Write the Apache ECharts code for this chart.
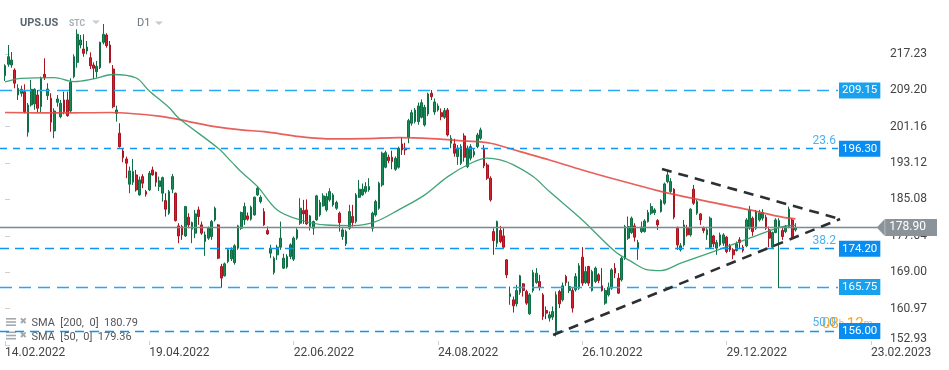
<!DOCTYPE html>
<html><head><meta charset="utf-8">
<script src="https://cdn.jsdelivr.net/npm/echarts@6/dist/echarts.min.js"></script>
<style>html,body{margin:0;padding:0;background:#fff}#c{width:949px;height:370px}</style>
</head><body><div id="c"></div>
<script>
// ---- tick labels ----
const xTickIdx = [0, 44, 88, 132, 176, 220, 264];
const xTickLabels = ['14.02.2022','19.04.2022','22.06.2022','24.08.2022','26.10.2022','29.12.2022','23.02.2023'];
const yTicks = [152.93, 160.97, 169.00, 177.04, 185.08, 193.12, 201.16, 209.20, 217.23];

// ---- candles (daily, first = 14.02.2022) ----
const opens = [
212.44,214.95,214.80,213.69,208.17,208.55,208.90,199.94,205.97,206.19,
208.17,205.59,212.74,208.02,207.45,200.23,206.56,203.38,207.07,207.07,
204.64,212.22,215.39,219.21,218.33,217.89,216.41,214.80,213.32,214.20,
219.81,221.42,219.21,213.91,204.13,199.72,195.81,194.04,188.46,188.90,
190.51,186.09,190.14,186.82,187.20,191.61,191.10,187.93,186.47,184.84,
182.05,187.36,186.47,179.25,179.10,177.04,181.17,178.52,177.64,182.78,
179.47,175.79,176.54,176.89,180.57,179.47,170.27,168.21,171.37,171.97,
171.15,174.33,178.74,180.57,181.46,180.73,181.68,186.09,184.62,182.41,
178.22,173.22,168.94,172.85,174.55,169.91,170.15,172.49,171.90,176.54,
179.84,182.63,182.78,179.10,178.74,180.57,181.68,183.67,182.78,185.00,
183.89,183.15,182.05,176.89,175.28,178.74,181.31,180.20,185.59,186.09,
186.82,187.20,178.74,181.68,183.15,188.30,192.21,194.42,194.42,191.77,
192.21,197.36,196.41,198.84,201.93,202.28,202.28,203.25,201.55,203.98,
208.55,204.42,204.86,204.27,203.25,204.86,197.51,197.36,194.55,193.09,
199.12,192.35,194.20,194.93,196.76,198.61,196.19,192.72,189.78,177.99,
175.43,178.22,177.04,171.74,163.64,162.91,162.03,164.52,166.44,164.74,
159.82,164.96,166.73,166.95,164.01,160.55,158.87,159.09,155.91,164.74,
162.91,168.06,164.96,164.96,165.12,165.49,172.34,166.73,170.27,164.96,
166.95,168.43,166.00,162.18,164.01,165.49,169.91,167.70,167.33,172.12,
176.54,177.77,179.25,174.33,177.99,177.99,180.20,182.05,182.19,180.42,
182.41,184.26,189.03,186.82,187.36,178.74,173.95,175.05,178.74,177.26,
187.36,182.05,181.90,178.74,177.26,174.55,177.04,174.33,175.05,175.43,
176.76,174.84,173.95,173.80,176.16,174.55,174.84,178.74,180.95,178.74,
180.57,180.95,181.17,178.37,174.55,177.77,179.10,178.22,177.99,179.10,
180.57,178.37];
const closes = [
214.64,216.63,215.90,210.76,209.65,209.43,204.49,205.97,209.43,209.43,
205.24,211.86,211.99,209.50,202.15,204.64,207.29,206.34,204.49,203.60,
210.98,216.63,221.58,220.32,217.38,218.77,214.64,214.07,214.51,219.81,
221.58,219.06,215.39,205.59,204.86,196.76,194.33,193.09,191.39,191.24,
187.20,189.41,188.68,186.25,190.88,190.51,188.90,189.19,189.91,182.94,
186.82,190.14,180.42,177.04,177.26,183.51,179.47,179.98,181.90,181.31,
177.64,177.26,178.74,180.20,183.15,172.12,167.71,170.86,173.95,173.95,
174.84,179.25,182.19,183.51,180.73,183.38,185.59,187.57,185.59,179.47,
177.48,174.33,172.12,174.55,176.54,172.12,172.49,175.06,176.54,178.36,
183.15,181.90,179.69,181.46,180.20,185.88,184.40,185.88,185.72,186.82,
186.09,184.40,179.98,178.36,177.99,182.41,179.98,186.09,187.36,187.36,
187.93,187.93,182.05,184.62,188.68,195.30,195.43,193.67,193.45,194.20,
196.41,196.03,196.03,202.50,204.27,204.86,205.75,206.48,205.46,208.40,
207.80,206.63,205.75,203.39,204.71,199.34,198.61,195.30,196.41,196.76,
194.42,196.41,196.76,195.66,199.34,200.45,192.50,189.78,185.00,176.00,
180.20,175.79,174.55,168.43,164.24,161.59,164.96,168.21,164.96,162.18,
164.01,168.94,168.81,165.71,159.22,159.97,159.60,160.33,164.01,162.03,
166.00,166.73,165.85,161.08,168.06,170.42,166.60,169.16,166.60,169.16,
169.91,167.17,164.96,164.96,165.71,169.53,168.81,164.39,172.12,179.10,
179.10,180.95,176.76,175.56,178.96,180.35,182.19,183.51,182.78,179.47,
184.84,188.52,190.51,189.03,181.17,175.05,174.84,179.47,177.26,182.94,
184.26,184.62,180.57,178.22,178.37,180.95,175.28,175.56,177.26,177.26,
173.58,173.95,172.85,175.28,175.57,173.80,180.57,182.78,177.99,182.41,
182.05,182.19,178.74,176.54,177.77,180.57,180.42,176.89,179.10,182.94,
176.89,178.90];
const lows = [
211.27,214.42,214.20,209.65,207.07,207.80,204.13,198.97,205.60,204.90,
204.35,204.35,211.49,207.07,200.07,198.61,205.59,203.03,203.91,203.38,
204.35,211.86,214.20,218.49,216.63,217.16,213.91,211.71,211.99,213.91,
219.37,218.62,215.17,205.24,202.28,196.54,193.32,189.78,186.47,188.30,
186.82,185.94,187.57,185.72,186.98,190.36,187.93,186.98,184.61,181.31,
181.68,186.47,180.20,175.43,176.16,176.82,178.74,175.43,176.54,179.47,
177.26,172.62,176.16,176.16,180.20,171.90,165.60,168.06,171.01,171.50,
170.70,173.95,178.38,179.47,180.40,180.40,181.50,185.87,184.20,179.25,
177.26,172.12,168.50,171.74,173.95,169.70,169.80,171.90,171.50,176.16,
179.47,179.69,179.47,178.22,177.26,180.40,181.30,183.51,182.41,184.62,
183.50,182.80,177.99,176.16,174.80,178.38,179.10,179.80,185.40,185.90,
186.40,186.80,177.99,181.30,182.80,187.90,191.99,193.09,191.77,191.40,
191.90,194.93,194.93,197.51,201.40,201.90,201.60,203.00,201.20,203.50,
207.07,203.80,204.50,202.60,202.90,199.00,196.41,194.55,192.72,192.70,
193.45,192.00,193.70,194.40,196.40,198.25,191.99,189.40,184.62,172.85,
174.55,175.43,174.33,167.71,161.81,160.10,161.44,164.01,163.64,161.81,
159.60,164.52,166.44,164.96,158.49,158.65,158.12,158.49,154.81,161.08,
162.53,166.00,164.39,160.10,164.74,165.12,166.00,166.44,166.00,164.74,
166.60,166.60,164.74,161.81,163.64,165.12,167.71,164.24,166.95,171.74,
176.16,177.48,175.79,171.74,177.64,177.77,179.98,181.68,181.68,178.37,
182.19,183.89,188.68,186.53,180.72,173.95,173.58,174.69,176.89,176.89,
183.89,181.68,179.47,177.64,176.16,174.33,174.55,172.85,174.69,174.84,
173.22,173.51,171.90,173.58,174.33,173.36,174.55,178.37,177.04,178.37,
180.20,180.42,178.37,174.55,174.11,177.64,165.49,176.16,177.64,178.74,
176.54,177.99];
const highs = [
214.95,219.21,217.67,214.07,210.54,210.23,210.54,206.41,211.49,209.65,
209.28,212.22,216.28,210.76,208.55,205.24,208.17,207.07,208.90,208.90,
211.86,217.16,222.68,221.42,221.58,220.10,217.60,215.39,215.68,219.94,
223.85,221.80,220.10,214.80,205.81,201.93,196.41,194.55,192.34,194.04,
191.61,190.14,190.66,187.20,191.39,192.34,191.24,190.14,190.14,186.47,
187.20,190.73,186.60,179.84,179.47,183.67,182.05,180.20,182.78,183.51,
180.20,177.99,179.10,180.57,183.51,179.69,170.86,171.15,174.33,174.50,
175.20,179.47,182.41,184.40,182.20,183.70,185.72,188.08,186.00,183.15,
179.10,175.07,172.50,175.07,180.20,173.10,173.00,175.40,176.90,178.74,
185.36,185.00,185.10,181.68,180.40,186.10,185.00,186.47,186.47,187.57,
186.50,184.80,182.40,178.74,178.40,183.89,183.89,186.50,189.41,188.60,
188.90,189.78,182.40,185.00,189.00,195.65,195.87,195.00,195.87,194.60,
196.76,198.84,197.60,202.90,204.90,205.30,206.50,207.20,206.00,208.69,
209.28,207.40,206.30,205.20,205.30,205.30,199.30,198.50,197.10,197.30,
199.72,197.00,197.30,196.40,199.80,200.96,197.10,193.20,190.20,178.74,
180.42,179.25,178.74,171.90,165.85,163.64,166.22,168.43,166.60,165.12,
164.40,169.53,169.91,168.43,164.40,161.44,160.33,161.44,164.74,165.12,
166.73,168.43,166.95,165.49,168.81,171.01,174.55,170.27,170.42,169.53,
170.27,168.80,169.91,165.49,166.73,169.91,171.01,168.81,172.49,179.47,
181.31,181.31,179.84,176.16,180.20,180.72,182.78,184.25,183.15,180.72,
185.15,188.81,191.61,189.78,187.57,179.10,175.43,180.57,179.47,183.15,
188.30,184.99,182.05,179.10,178.74,181.31,177.26,176.16,177.77,177.64,
177.04,175.28,174.33,175.79,176.76,175.05,180.95,183.67,181.31,182.78,
182.78,182.94,181.68,179.10,177.99,180.95,180.95,178.74,179.47,183.51,
180.95,179.84];

// ---- moving averages: [bar index, value] ----
const sma200 = [[0,204.3],[17,204.2],[32,204.3],[48,203.4],[56,202.3],[64,201.2],[72,200.45],[79,200.07],[90,198.97],[100,198.46],[110,198.53],[120,198.75],[130,198.53],[140,198.02],[148,197.51],[157,195.65],[166,193.82],[176,191.61],[186,189.56],[199,187.04],[206,185.87],[216,184.39],[227,182.78],[237,181.17],[241,180.79]];
const sma50 = [[0,211.05],[5,211.86],[15,212.0],[21,211.11],[27,211.71],[33,212.7],[40,211.93],[44,209.06],[50,205.41],[53,203.03],[65,196.4],[69,193.45],[72,191.2],[77,187.93],[83,182.75],[90,180.55],[98,179.44],[106,179.31],[113,180.2],[120,182.78],[128,186.1],[135,190.14],[142,193.09],[147,194.2],[151,193.82],[155,192.72],[161,190.14],[166,186.83],[176,180.57],[186,173.57],[191,171.36],[196,169.53],[200,169.38],[206,171.01],[216,173.57],[227,176.53],[237,179.1],[241,179.36]];

// ---- drawn levels ----
const levels = [209.15, 196.30, 174.20, 165.75, 156.00];
const fibTexts = ['23.6', '38.2', '50.0'];
const fibValues = [196.30, 174.20, 156.00];
const lastPrice = 178.90;
const trendUpper = [[200.3, 191.81], [254.6, 180.76]];
const trendLower = [[167.1, 155.13], [254.6, 180.76]];

// ---- layout / styles ----
const X_MIN = -1.5244, X_MAX = 267.38;
const LEVEL_END = 253.96, PRICE_END = 266.2;
const levelStyles = [
  {line:'#27a8f1', box:'#17a1ee', dash:[12,7]},
  {line:'#0e95ef', box:'#0a8df0', dash:[7,6]},
  {line:'#0e95ef', box:'#0a8df0', dash:[9,6]},
  {line:'#27a8f1', box:'#17a1ee', dash:[12,7]},
  {line:'#0e95ef', box:'#0a8df0', dash:[9,6]}
];

const candles = opens.map((o, i) => [i, o, closes[i], lows[i], highs[i]]);

const ml = [];
levels.forEach((v, k) => {
  const s = levelStyles[k];
  ml.push([{coord:[X_MIN, v], lineStyle:{color:s.line, width:1.3, type:s.dash},
    label:{show:true, position:'end', distance:1, formatter:v.toFixed(2), color:'#fff',
      backgroundColor:s.box, padding:[2,3,1,3], fontSize:11.5, lineHeight:13, fontFamily:'Roboto'}},
    {coord:[LEVEL_END, v]}]);
});
fibValues.forEach((v, k) => {
  ml.push([{coord:[X_MIN, v], lineStyle:{color:'rgba(0,0,0,0)', width:1, opacity:1},
    label:{show:true, position:'insideEndTop', distance:2, formatter:fibTexts[k], color:'#4ab2f0', fontSize:12, fontFamily:'Roboto', opacity:1}},
    {coord:[LEVEL_END, v]}]);
});
ml.push([{coord:[X_MIN, lastPrice], lineStyle:{color:'#7e888e', width:1.3, type:'solid'},
  label:{show:true, position:'end', distance:7, formatter:lastPrice.toFixed(2), color:'#fff',
    backgroundColor:'#8a9399', padding:[2,11,2,4], fontSize:12, lineHeight:13, fontFamily:'Roboto'}},
  {coord:[PRICE_END, lastPrice]}]);
[trendUpper, trendLower].forEach(t => {
  ml.push([{coord:t[0], lineStyle:{color:'#2b3035', width:2.6, type:[10,7]}, label:{show:false}}, {coord:t[1]}]);
});

const chart = echarts.init(document.getElementById('c'));
chart.setOption({
  animation:false,
  textStyle:{fontFamily:'Roboto, sans-serif'},
  grid:{left:0, right:67, top:0, bottom:25},
  xAxis:{type:'value', min:X_MIN, max:X_MAX, axisLine:{show:false}, splitLine:{show:false},
    axisTick:{show:true, inside:true, length:4, customValues:xTickIdx, lineStyle:{color:'#d0d0d0'}},
    axisLabel:{customValues:xTickIdx, align:'left', margin:2, color:'#444', fontSize:12,
      formatter:v => { const k = xTickIdx.indexOf(v); return k >= 0 ? xTickLabels[k] : ''; }}},
  yAxis:{type:'value', position:'right', min:152.93, max:229.16, axisLine:{show:false}, splitLine:{show:false},
    axisTick:{show:true, length:5, customValues:yTicks, lineStyle:{color:'#d0d0d0'}},
    axisLabel:{customValues:yTicks, margin:8, color:'#444', fontSize:12, verticalAlignMinLabel:'bottom',
      formatter:v => v.toFixed(2)}},
  graphic:[
    {type:'text', x:20, y:23.5, z:1, style:{text:'UPS.US', font:'bold 11px Roboto', fill:'#5b6670', verticalAlign:'middle'}},
    {type:'text', x:69, y:24, z:1, style:{text:'STC', font:'bold 8.5px Roboto', fill:'#a3aeb6', verticalAlign:'middle'}},
    {type:'polygon', z:1, shape:{points:[[92,20.5],[100,20.5],[96,24]]}, style:{fill:'#c4cbd0'}},
    {type:'text', x:137, y:23.5, z:1, style:{text:'D1', font:'11px Roboto', fill:'#6b757d', verticalAlign:'middle'}},
    {type:'polygon', z:1, shape:{points:[[155,21.5],[163,21.5],[159,25]]}, style:{fill:'#c4cbd0'}},
    {type:'rect', z:1, shape:{x:6, y:318, width:10, height:1.6}, style:{fill:'#a2a9ae'}},
    {type:'rect', z:1, shape:{x:6, y:321.2, width:10, height:1.6}, style:{fill:'#a2a9ae'}},
    {type:'rect', z:1, shape:{x:6, y:324.4, width:10, height:1.6}, style:{fill:'#a2a9ae'}},
    {type:'text', x:19.5, y:322, z:1, style:{text:'✖', font:'9px "DejaVu Sans"', fill:'#a2a9ae', verticalAlign:'middle'}},
    {type:'text', x:31.5, y:323.5, z:1, style:{text:'SMA  [200,  0]  ' + sma200[sma200.length-1][1].toFixed(2), font:'11px Roboto', fill:'#555', verticalAlign:'middle'}},
    {type:'rect', z:1, shape:{x:6, y:331.5, width:10, height:1.6}, style:{fill:'#a2a9ae'}},
    {type:'rect', z:1, shape:{x:6, y:334.7, width:10, height:1.6}, style:{fill:'#a2a9ae'}},
    {type:'rect', z:1, shape:{x:6, y:337.9, width:10, height:1.6}, style:{fill:'#a2a9ae'}},
    {type:'text', x:19.5, y:335.5, z:1, style:{text:'✖', font:'9px "DejaVu Sans"', fill:'#a2a9ae', verticalAlign:'middle'}},
    {type:'text', x:31.5, y:337, z:1, style:{text:'SMA  [50,  0]  ' + sma50[sma50.length-1][1].toFixed(2), font:'11px Roboto', fill:'#555', verticalAlign:'middle'}},
    {type:'text', x:822, y:324, z:1, style:{text:'{o|08}{g|h }{o|12}{g|m}', verticalAlign:'middle',
      rich:{o:{fill:'#f6a623', font:'15px Roboto'}, g:{fill:'#b8b8b8', font:'10px Roboto'}}}}
  ],
  series:[
    {type:'candlestick', data:candles, encode:{x:0, y:[1,2,3,4]}, barWidth:2.2, z:2,
      itemStyle:{color:'#178c58', color0:'#d3202f', borderColor:'#0f6e44', borderColor0:'#a8141f', borderWidth:1},
      markLine:{silent:true, symbol:['none','none'], animation:false, data:ml},
      markPoint:{silent:true, animation:false, data:[{coord:[267.0, lastPrice], symbol:'path://M0,5L8,0L8,10Z',
        symbolSize:[8,17], itemStyle:{color:'#8a9399'}, label:{show:false}}]}},
    {type:'line', data:sma200, smooth:0.35, showSymbol:false, z:3,
      lineStyle:{color:'#e3443f', width:1.7, opacity:0.85}},
    {type:'line', data:sma50, smooth:0.35, showSymbol:false, z:3,
      lineStyle:{color:'#2b9a68', width:1.3, opacity:0.9}}
  ]
});
</script>
</body></html>
